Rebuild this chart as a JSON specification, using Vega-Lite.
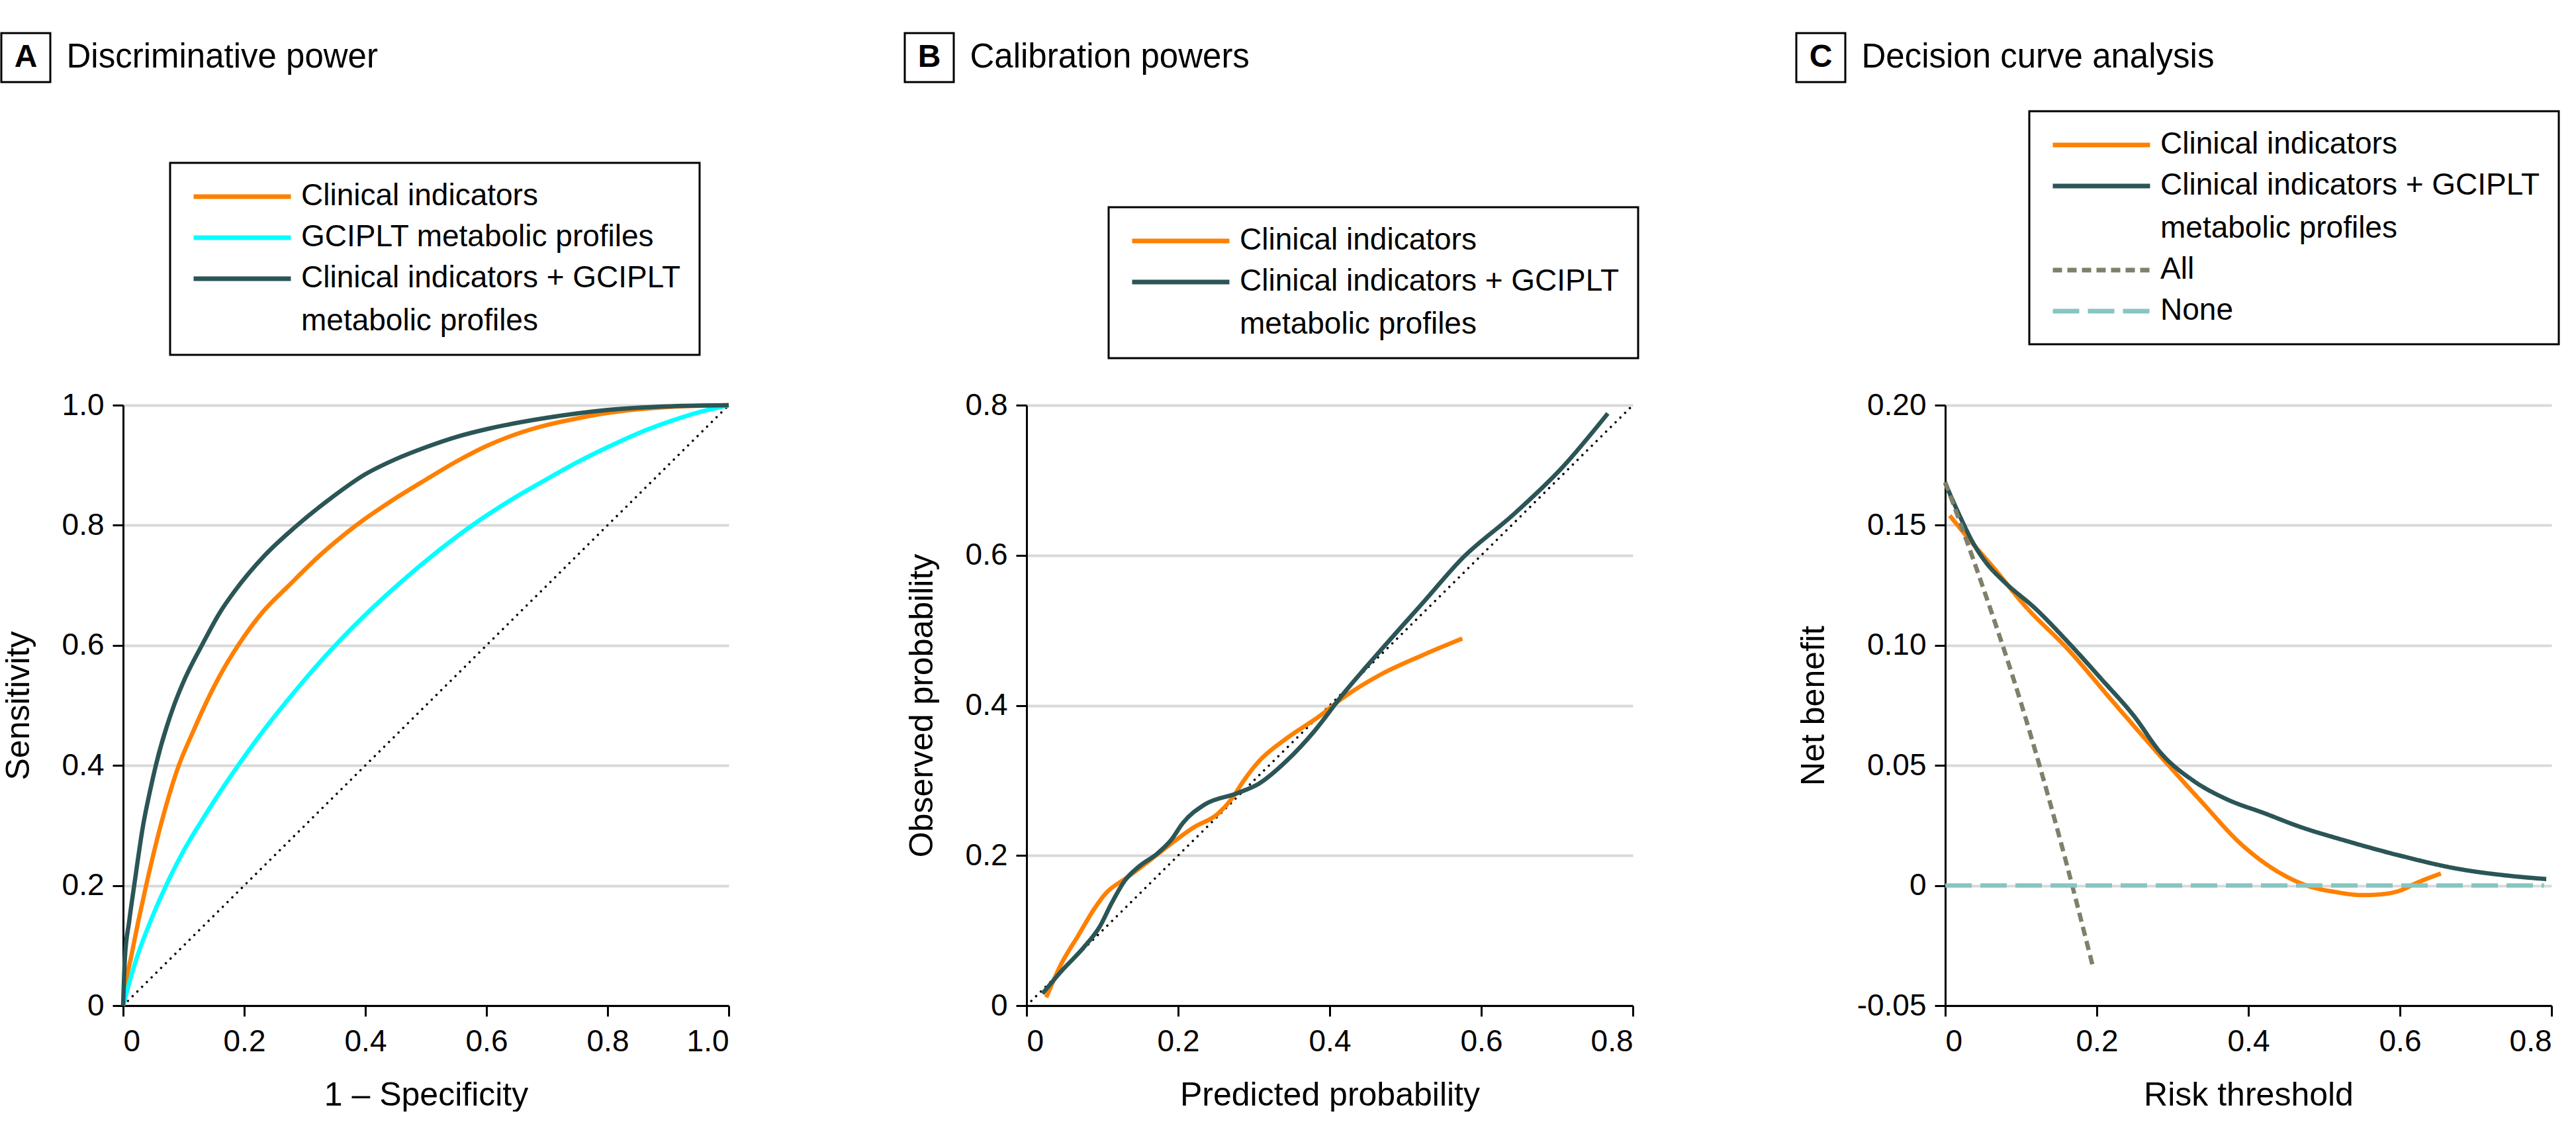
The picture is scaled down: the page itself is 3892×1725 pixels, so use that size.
{
  "$schema": "https://vega.github.io/schema/vega-lite/v6.json",
  "background": "white",
  "padding": {"left": 0, "top": 48, "right": 0, "bottom": 0},
  "config": {
    "font": "Liberation Sans",
    "view": {"stroke": null},
    "axis": {
      "domainColor": "black", "domainWidth": 3, "tickColor": "black", "tickWidth": 3, "tickSize": 16,
      "labelFontSize": 46, "labelColor": "black", "titleFontSize": 50, "titleFontWeight": "normal", "titleColor": "black",
      "gridColor": "#d9d9d9", "gridWidth": 4
    },
    "axisX": {"grid": false, "labelPadding": 16, "titlePadding": 33},
    "axisY": {"grid": true, "labelPadding": 13, "titlePadding": 40},
    "legend": {
      "strokeColor": "black", "strokeWidth": 3, "padding": 28, "rowPadding": 16,
      "labelFontSize": 46, "labelColor": "black", "labelLimit": 1000, "labelOffset": 66, "labelBaseline": "top",
      "symbolType": "M-5,0H5", "symbolSize": 864, "symbolStrokeWidth": 7, "symbolOffset": 58, "orient": "none"
    }
  },
  "resolve": {"scale": {"color": "independent", "strokeDash": "independent"}, "legend": {"color": "independent", "strokeDash": "independent"}},
  "spacing": 251,
  "hconcat": [
    {
      "spacing": 463,
      "vconcat": [
        {
          "spacing": 22,
          "hconcat": [
            {
              "width": 74, "height": 74,
              "view": {"stroke": "black", "strokeWidth": 3},
              "data": {"values": [{"panel": "A"}]},
              "mark": {"type": "text", "fontSize": 48, "fontWeight": "bold", "color": "black"},
              "encoding": {"text": {"field": "panel"}}
            },
            {
              "width": 1, "height": 74,
              "data": {"values": [{"heading": "Discriminative power"}]},
              "mark": {"type": "text", "fontSize": 51, "align": "left", "color": "black"},
              "encoding": {"text": {"field": "heading"}}
            }
          ]
        },
        {
          "spacing": 0,
          "hconcat": [
            {
              "width": 1, "height": 1,
              "data": {"values": [{"blank": ""}]},
              "mark": {"type": "text"},
              "encoding": {"text": {"field": "blank"}}
            },
            {
              "width": 915, "height": 907,
              "encoding": {
                "x": {"field": "fpr", "type": "quantitative", "scale": {"domain": [0, 1], "nice": false, "zero": false},
                      "axis": {"values": [0, 0.2, 0.4, 0.6, 0.8, 1], "labelExpr": "datum.value == 0 ? '0' : format(datum.value, '.1f')"}, "title": "1 – Specificity"},
                "y": {"field": "tpr", "type": "quantitative", "scale": {"domain": [0, 1], "nice": false, "zero": false},
                      "axis": {"values": [0, 0.2, 0.4, 0.6, 0.8, 1], "labelExpr": "datum.value == 0 ? '0' : format(datum.value, '.1f')"}, "title": "Sensitivity"}
              },
              "layer": [
                {
                  "data": {"values": [{"fpr": 0, "tpr": 0}, {"fpr": 1, "tpr": 1}]},
                  "mark": {"type": "line", "color": "black", "strokeWidth": 3.5, "strokeDash": [0.1, 10], "strokeCap": "round"}
                },
                {
                  "data": {"values": [
                    {"model": "Clinical indicators", "fpr": 0, "tpr": 0},
                    {"model": "Clinical indicators", "fpr": 0.005, "tpr": 0.04},
                    {"model": "Clinical indicators", "fpr": 0.013, "tpr": 0.08},
                    {"model": "Clinical indicators", "fpr": 0.025, "tpr": 0.14},
                    {"model": "Clinical indicators", "fpr": 0.038, "tpr": 0.2},
                    {"model": "Clinical indicators", "fpr": 0.062, "tpr": 0.3},
                    {"model": "Clinical indicators", "fpr": 0.092, "tpr": 0.4},
                    {"model": "Clinical indicators", "fpr": 0.115, "tpr": 0.455},
                    {"model": "Clinical indicators", "fpr": 0.135, "tpr": 0.5},
                    {"model": "Clinical indicators", "fpr": 0.16, "tpr": 0.55},
                    {"model": "Clinical indicators", "fpr": 0.19, "tpr": 0.6},
                    {"model": "Clinical indicators", "fpr": 0.23, "tpr": 0.655},
                    {"model": "Clinical indicators", "fpr": 0.274, "tpr": 0.7},
                    {"model": "Clinical indicators", "fpr": 0.325, "tpr": 0.75},
                    {"model": "Clinical indicators", "fpr": 0.385, "tpr": 0.8},
                    {"model": "Clinical indicators", "fpr": 0.45, "tpr": 0.845},
                    {"model": "Clinical indicators", "fpr": 0.5, "tpr": 0.876},
                    {"model": "Clinical indicators", "fpr": 0.55, "tpr": 0.906},
                    {"model": "Clinical indicators", "fpr": 0.6, "tpr": 0.932},
                    {"model": "Clinical indicators", "fpr": 0.65, "tpr": 0.952},
                    {"model": "Clinical indicators", "fpr": 0.7, "tpr": 0.967},
                    {"model": "Clinical indicators", "fpr": 0.75, "tpr": 0.978},
                    {"model": "Clinical indicators", "fpr": 0.8, "tpr": 0.987},
                    {"model": "Clinical indicators", "fpr": 0.9, "tpr": 0.997},
                    {"model": "Clinical indicators", "fpr": 1, "tpr": 1},
                    {"model": "GCIPLT metabolic profiles", "fpr": 0, "tpr": 0},
                    {"model": "GCIPLT metabolic profiles", "fpr": 0.008, "tpr": 0.03},
                    {"model": "GCIPLT metabolic profiles", "fpr": 0.022, "tpr": 0.078},
                    {"model": "GCIPLT metabolic profiles", "fpr": 0.045, "tpr": 0.14},
                    {"model": "GCIPLT metabolic profiles", "fpr": 0.071, "tpr": 0.2},
                    {"model": "GCIPLT metabolic profiles", "fpr": 0.1, "tpr": 0.258},
                    {"model": "GCIPLT metabolic profiles", "fpr": 0.128, "tpr": 0.305},
                    {"model": "GCIPLT metabolic profiles", "fpr": 0.155, "tpr": 0.348},
                    {"model": "GCIPLT metabolic profiles", "fpr": 0.19, "tpr": 0.4},
                    {"model": "GCIPLT metabolic profiles", "fpr": 0.225, "tpr": 0.449},
                    {"model": "GCIPLT metabolic profiles", "fpr": 0.263, "tpr": 0.498},
                    {"model": "GCIPLT metabolic profiles", "fpr": 0.3, "tpr": 0.543},
                    {"model": "GCIPLT metabolic profiles", "fpr": 0.343, "tpr": 0.592},
                    {"model": "GCIPLT metabolic profiles", "fpr": 0.395, "tpr": 0.646},
                    {"model": "GCIPLT metabolic profiles", "fpr": 0.455, "tpr": 0.702},
                    {"model": "GCIPLT metabolic profiles", "fpr": 0.52, "tpr": 0.757},
                    {"model": "GCIPLT metabolic profiles", "fpr": 0.585, "tpr": 0.806},
                    {"model": "GCIPLT metabolic profiles", "fpr": 0.65, "tpr": 0.848},
                    {"model": "GCIPLT metabolic profiles", "fpr": 0.7, "tpr": 0.877},
                    {"model": "GCIPLT metabolic profiles", "fpr": 0.75, "tpr": 0.905},
                    {"model": "GCIPLT metabolic profiles", "fpr": 0.8, "tpr": 0.93},
                    {"model": "GCIPLT metabolic profiles", "fpr": 0.85, "tpr": 0.953},
                    {"model": "GCIPLT metabolic profiles", "fpr": 0.9, "tpr": 0.972},
                    {"model": "GCIPLT metabolic profiles", "fpr": 0.95, "tpr": 0.988},
                    {"model": "GCIPLT metabolic profiles", "fpr": 1, "tpr": 1},
                    {"model": "Clinical indicators + GCIPLT metabolic profiles", "fpr": 0, "tpr": 0},
                    {"model": "Clinical indicators + GCIPLT metabolic profiles", "fpr": 0.003, "tpr": 0.08},
                    {"model": "Clinical indicators + GCIPLT metabolic profiles", "fpr": 0.01, "tpr": 0.14},
                    {"model": "Clinical indicators + GCIPLT metabolic profiles", "fpr": 0.019, "tpr": 0.205},
                    {"model": "Clinical indicators + GCIPLT metabolic profiles", "fpr": 0.033, "tpr": 0.3},
                    {"model": "Clinical indicators + GCIPLT metabolic profiles", "fpr": 0.045, "tpr": 0.36},
                    {"model": "Clinical indicators + GCIPLT metabolic profiles", "fpr": 0.054, "tpr": 0.4},
                    {"model": "Clinical indicators + GCIPLT metabolic profiles", "fpr": 0.084, "tpr": 0.5},
                    {"model": "Clinical indicators + GCIPLT metabolic profiles", "fpr": 0.1, "tpr": 0.54},
                    {"model": "Clinical indicators + GCIPLT metabolic profiles", "fpr": 0.13, "tpr": 0.6},
                    {"model": "Clinical indicators + GCIPLT metabolic profiles", "fpr": 0.16, "tpr": 0.655},
                    {"model": "Clinical indicators + GCIPLT metabolic profiles", "fpr": 0.184, "tpr": 0.69},
                    {"model": "Clinical indicators + GCIPLT metabolic profiles", "fpr": 0.234, "tpr": 0.75},
                    {"model": "Clinical indicators + GCIPLT metabolic profiles", "fpr": 0.284, "tpr": 0.797},
                    {"model": "Clinical indicators + GCIPLT metabolic profiles", "fpr": 0.343, "tpr": 0.845},
                    {"model": "Clinical indicators + GCIPLT metabolic profiles", "fpr": 0.4, "tpr": 0.885},
                    {"model": "Clinical indicators + GCIPLT metabolic profiles", "fpr": 0.45, "tpr": 0.91},
                    {"model": "Clinical indicators + GCIPLT metabolic profiles", "fpr": 0.5, "tpr": 0.93},
                    {"model": "Clinical indicators + GCIPLT metabolic profiles", "fpr": 0.55, "tpr": 0.947},
                    {"model": "Clinical indicators + GCIPLT metabolic profiles", "fpr": 0.6, "tpr": 0.96},
                    {"model": "Clinical indicators + GCIPLT metabolic profiles", "fpr": 0.7, "tpr": 0.979},
                    {"model": "Clinical indicators + GCIPLT metabolic profiles", "fpr": 0.8, "tpr": 0.992},
                    {"model": "Clinical indicators + GCIPLT metabolic profiles", "fpr": 0.9, "tpr": 0.998},
                    {"model": "Clinical indicators + GCIPLT metabolic profiles", "fpr": 1, "tpr": 1}
                  ]},
                  "mark": {"type": "line", "strokeWidth": 6.5, "interpolate": "monotone"},
                  "encoding": {
                    "color": {"field": "model", "type": "nominal",
                      "scale": {"domain": ["Clinical indicators", "GCIPLT metabolic profiles", "Clinical indicators + GCIPLT metabolic profiles"], "range": ["#ff8000", "#00ffff", "#2b5556"]},
                      "legend": {"title": null, "legendX": 255, "legendY": 196, "symbolType": "M-5,0H5",
                        "labelExpr": "datum.label == 'Clinical indicators + GCIPLT metabolic profiles' ? ['Clinical indicators + GCIPLT', 'metabolic profiles'] : datum.label",
                        "encode": {"labels": {"update": {"dy": {"value": -23}, "lineHeight": {"value": 65}}}, "symbols": {"update": {"strokeWidth": {"value": 7}}}}}
                    }
                  }
                }
              ]
            }
          ]
        }
      ]
    },
    {
      "spacing": 235,
      "resolve": {"scale": {"color": "independent", "strokeDash": "independent"}, "legend": {"color": "independent", "strokeDash": "independent"}},
      "hconcat": [
        {
          "spacing": 463,
          "vconcat": [
            {
              "spacing": 22,
              "hconcat": [
                {
                  "width": 74, "height": 74,
                  "view": {"stroke": "black", "strokeWidth": 3},
                  "data": {"values": [{"panel": "B"}]},
                  "mark": {"type": "text", "fontSize": 48, "fontWeight": "bold", "color": "black"},
                  "encoding": {"text": {"field": "panel"}}
                },
                {
                  "width": 1, "height": 74,
                  "data": {"values": [{"heading": "Calibration powers"}]},
                  "mark": {"type": "text", "fontSize": 51, "align": "left", "color": "black"},
                  "encoding": {"text": {"field": "heading"}}
                }
              ]
            },
            {
              "spacing": 0,
              "hconcat": [
                {
                  "width": 1, "height": 1,
                  "data": {"values": [{"blank": ""}]},
                  "mark": {"type": "text"},
                  "encoding": {"text": {"field": "blank"}}
                },
                {
                  "width": 916, "height": 907,
                  "encoding": {
                    "x": {"field": "predicted", "type": "quantitative", "scale": {"domain": [0, 0.8], "nice": false, "zero": false},
                          "axis": {"values": [0, 0.2, 0.4, 0.6, 0.8], "labelExpr": "datum.value == 0 ? '0' : format(datum.value, '.1f')"}, "title": "Predicted probability"},
                    "y": {"field": "observed", "type": "quantitative", "scale": {"domain": [0, 0.8], "nice": false, "zero": false},
                          "axis": {"values": [0, 0.2, 0.4, 0.6, 0.8], "labelExpr": "datum.value == 0 ? '0' : format(datum.value, '.1f')"}, "title": "Observed probability"}
                  },
                  "layer": [
                    {
                      "data": {"values": [{"predicted": 0, "observed": 0}, {"predicted": 0.8, "observed": 0.8}]},
                      "mark": {"type": "line", "color": "black", "strokeWidth": 3.5, "strokeDash": [0.1, 10], "strokeCap": "round"}
                    },
                    {
                      "data": {"values": [
                        {"model": "Clinical indicators", "predicted": 0.026, "observed": 0.011},
                        {"model": "Clinical indicators", "predicted": 0.046, "observed": 0.056},
                        {"model": "Clinical indicators", "predicted": 0.068, "observed": 0.093},
                        {"model": "Clinical indicators", "predicted": 0.09, "observed": 0.13},
                        {"model": "Clinical indicators", "predicted": 0.104, "observed": 0.149},
                        {"model": "Clinical indicators", "predicted": 0.133, "observed": 0.171},
                        {"model": "Clinical indicators", "predicted": 0.162, "observed": 0.193},
                        {"model": "Clinical indicators", "predicted": 0.191, "observed": 0.216},
                        {"model": "Clinical indicators", "predicted": 0.22, "observed": 0.237},
                        {"model": "Clinical indicators", "predicted": 0.253, "observed": 0.256},
                        {"model": "Clinical indicators", "predicted": 0.271, "observed": 0.276},
                        {"model": "Clinical indicators", "predicted": 0.286, "observed": 0.299},
                        {"model": "Clinical indicators", "predicted": 0.307, "observed": 0.326},
                        {"model": "Clinical indicators", "predicted": 0.343, "observed": 0.356},
                        {"model": "Clinical indicators", "predicted": 0.387, "observed": 0.386},
                        {"model": "Clinical indicators", "predicted": 0.416, "observed": 0.409},
                        {"model": "Clinical indicators", "predicted": 0.467, "observed": 0.441},
                        {"model": "Clinical indicators", "predicted": 0.525, "observed": 0.468},
                        {"model": "Clinical indicators", "predicted": 0.575, "observed": 0.489},
                        {"model": "Clinical indicators + GCIPLT metabolic profiles", "predicted": 0.021, "observed": 0.016},
                        {"model": "Clinical indicators + GCIPLT metabolic profiles", "predicted": 0.046, "observed": 0.046},
                        {"model": "Clinical indicators + GCIPLT metabolic profiles", "predicted": 0.075, "observed": 0.077},
                        {"model": "Clinical indicators + GCIPLT metabolic profiles", "predicted": 0.097, "observed": 0.106},
                        {"model": "Clinical indicators + GCIPLT metabolic profiles", "predicted": 0.112, "observed": 0.136},
                        {"model": "Clinical indicators + GCIPLT metabolic profiles", "predicted": 0.13, "observed": 0.167},
                        {"model": "Clinical indicators + GCIPLT metabolic profiles", "predicted": 0.148, "observed": 0.185},
                        {"model": "Clinical indicators + GCIPLT metabolic profiles", "predicted": 0.173, "observed": 0.203},
                        {"model": "Clinical indicators + GCIPLT metabolic profiles", "predicted": 0.191, "observed": 0.221},
                        {"model": "Clinical indicators + GCIPLT metabolic profiles", "predicted": 0.206, "observed": 0.243},
                        {"model": "Clinical indicators + GCIPLT metabolic profiles", "predicted": 0.235, "observed": 0.268},
                        {"model": "Clinical indicators + GCIPLT metabolic profiles", "predicted": 0.278, "observed": 0.283},
                        {"model": "Clinical indicators + GCIPLT metabolic profiles", "predicted": 0.307, "observed": 0.296},
                        {"model": "Clinical indicators + GCIPLT metabolic profiles", "predicted": 0.343, "observed": 0.326},
                        {"model": "Clinical indicators + GCIPLT metabolic profiles", "predicted": 0.38, "observed": 0.366},
                        {"model": "Clinical indicators + GCIPLT metabolic profiles", "predicted": 0.416, "observed": 0.413},
                        {"model": "Clinical indicators + GCIPLT metabolic profiles", "predicted": 0.467, "observed": 0.473},
                        {"model": "Clinical indicators + GCIPLT metabolic profiles", "predicted": 0.525, "observed": 0.539},
                        {"model": "Clinical indicators + GCIPLT metabolic profiles", "predicted": 0.575, "observed": 0.596},
                        {"model": "Clinical indicators + GCIPLT metabolic profiles", "predicted": 0.641, "observed": 0.653},
                        {"model": "Clinical indicators + GCIPLT metabolic profiles", "predicted": 0.706, "observed": 0.716},
                        {"model": "Clinical indicators + GCIPLT metabolic profiles", "predicted": 0.767, "observed": 0.789}
                      ]},
                      "mark": {"type": "line", "strokeWidth": 6.5, "interpolate": "monotone"},
                      "encoding": {
                        "color": {"field": "model", "type": "nominal",
                          "scale": {"domain": ["Clinical indicators", "Clinical indicators + GCIPLT metabolic profiles"], "range": ["#ff8000", "#2b5556"]},
                          "legend": {"title": null, "legendX": 308, "legendY": 263, "symbolType": "M-5,0H5",
                            "labelExpr": "datum.label == 'Clinical indicators + GCIPLT metabolic profiles' ? ['Clinical indicators + GCIPLT', 'metabolic profiles'] : datum.label",
                            "encode": {"labels": {"update": {"dy": {"value": -23}, "lineHeight": {"value": 65}}}, "symbols": {"update": {"strokeWidth": {"value": 7}}}}}
                        }
                      }
                    }
                  ]
                }
              ]
            }
          ]
        },
        {
          "spacing": 463,
          "vconcat": [
            {
              "spacing": 22,
              "hconcat": [
                {
                  "width": 74, "height": 74,
                  "view": {"stroke": "black", "strokeWidth": 3},
                  "data": {"values": [{"panel": "C"}]},
                  "mark": {"type": "text", "fontSize": 48, "fontWeight": "bold", "color": "black"},
                  "encoding": {"text": {"field": "panel"}}
                },
                {
                  "width": 1, "height": 74,
                  "data": {"values": [{"heading": "Decision curve analysis"}]},
                  "mark": {"type": "text", "fontSize": 51, "align": "left", "color": "black"},
                  "encoding": {"text": {"field": "heading"}}
                }
              ]
            },
            {
              "spacing": 0,
              "hconcat": [
                {
                  "width": 1, "height": 1,
                  "data": {"values": [{"blank": ""}]},
                  "mark": {"type": "text"},
                  "encoding": {"text": {"field": "blank"}}
                },
                {
                  "width": 916, "height": 907,
                  "data": {"values": [
                    {"model": "Clinical indicators", "threshold": 0.006, "net_benefit": 0.154},
                    {"model": "Clinical indicators", "threshold": 0.04, "net_benefit": 0.141},
                    {"model": "Clinical indicators", "threshold": 0.062, "net_benefit": 0.133},
                    {"model": "Clinical indicators", "threshold": 0.105, "net_benefit": 0.1165},
                    {"model": "Clinical indicators", "threshold": 0.163, "net_benefit": 0.098},
                    {"model": "Clinical indicators", "threshold": 0.22, "net_benefit": 0.077},
                    {"model": "Clinical indicators", "threshold": 0.278, "net_benefit": 0.056},
                    {"model": "Clinical indicators", "threshold": 0.335, "net_benefit": 0.036},
                    {"model": "Clinical indicators", "threshold": 0.393, "net_benefit": 0.0165},
                    {"model": "Clinical indicators", "threshold": 0.443, "net_benefit": 0.005},
                    {"model": "Clinical indicators", "threshold": 0.479, "net_benefit": -0.0002},
                    {"model": "Clinical indicators", "threshold": 0.515, "net_benefit": -0.0027},
                    {"model": "Clinical indicators", "threshold": 0.551, "net_benefit": -0.004},
                    {"model": "Clinical indicators", "threshold": 0.58, "net_benefit": -0.0035},
                    {"model": "Clinical indicators", "threshold": 0.602, "net_benefit": -0.0019},
                    {"model": "Clinical indicators", "threshold": 0.62, "net_benefit": 0.0008},
                    {"model": "Clinical indicators", "threshold": 0.654, "net_benefit": 0.005},
                    {"model": "Clinical indicators + GCIPLT metabolic profiles", "threshold": 0, "net_benefit": 0.1675},
                    {"model": "Clinical indicators + GCIPLT metabolic profiles", "threshold": 0.019, "net_benefit": 0.154},
                    {"model": "Clinical indicators + GCIPLT metabolic profiles", "threshold": 0.037, "net_benefit": 0.1425},
                    {"model": "Clinical indicators + GCIPLT metabolic profiles", "threshold": 0.055, "net_benefit": 0.134},
                    {"model": "Clinical indicators + GCIPLT metabolic profiles", "threshold": 0.076, "net_benefit": 0.127},
                    {"model": "Clinical indicators + GCIPLT metabolic profiles", "threshold": 0.12, "net_benefit": 0.115},
                    {"model": "Clinical indicators + GCIPLT metabolic profiles", "threshold": 0.163, "net_benefit": 0.101},
                    {"model": "Clinical indicators + GCIPLT metabolic profiles", "threshold": 0.206, "net_benefit": 0.086},
                    {"model": "Clinical indicators + GCIPLT metabolic profiles", "threshold": 0.249, "net_benefit": 0.0706},
                    {"model": "Clinical indicators + GCIPLT metabolic profiles", "threshold": 0.285, "net_benefit": 0.055},
                    {"model": "Clinical indicators + GCIPLT metabolic profiles", "threshold": 0.328, "net_benefit": 0.0435},
                    {"model": "Clinical indicators + GCIPLT metabolic profiles", "threshold": 0.371, "net_benefit": 0.036},
                    {"model": "Clinical indicators + GCIPLT metabolic profiles", "threshold": 0.422, "net_benefit": 0.03},
                    {"model": "Clinical indicators + GCIPLT metabolic profiles", "threshold": 0.465, "net_benefit": 0.0248},
                    {"model": "Clinical indicators + GCIPLT metabolic profiles", "threshold": 0.53, "net_benefit": 0.0185},
                    {"model": "Clinical indicators + GCIPLT metabolic profiles", "threshold": 0.602, "net_benefit": 0.0123},
                    {"model": "Clinical indicators + GCIPLT metabolic profiles", "threshold": 0.674, "net_benefit": 0.0071},
                    {"model": "Clinical indicators + GCIPLT metabolic profiles", "threshold": 0.746, "net_benefit": 0.004},
                    {"model": "Clinical indicators + GCIPLT metabolic profiles", "threshold": 0.793, "net_benefit": 0.0027},
                    {"model": "All", "threshold": 0, "net_benefit": 0.168},
                    {"model": "All", "threshold": 0.05, "net_benefit": 0.124},
                    {"model": "All", "threshold": 0.1, "net_benefit": 0.076},
                    {"model": "All", "threshold": 0.15, "net_benefit": 0.021},
                    {"model": "All", "threshold": 0.195, "net_benefit": -0.034},
                    {"model": "None", "threshold": 0, "net_benefit": 0},
                    {"model": "None", "threshold": 0.79, "net_benefit": 0}
                  ]},
                  "mark": {"type": "line", "strokeWidth": 6.5, "interpolate": "monotone"},
                  "encoding": {
                    "x": {"field": "threshold", "type": "quantitative", "scale": {"domain": [0, 0.8], "nice": false, "zero": false},
                          "axis": {"values": [0, 0.2, 0.4, 0.6, 0.8], "labelExpr": "datum.value == 0 ? '0' : format(datum.value, '.1f')"}, "title": "Risk threshold"},
                    "y": {"field": "net_benefit", "type": "quantitative", "scale": {"domain": [-0.05, 0.2], "nice": false, "zero": false},
                          "axis": {"values": [-0.05, 0, 0.05, 0.1, 0.15, 0.2], "labelExpr": "datum.value == 0 ? '0' : (datum.value < 0 ? '-' + format(-datum.value, '.2f') : format(datum.value, '.2f'))"}, "title": "Net benefit"},
                    "color": {"field": "model", "type": "nominal",
                      "scale": {"domain": ["Clinical indicators", "Clinical indicators + GCIPLT metabolic profiles", "All", "None"], "range": ["#ff8000", "#2b5556", "#807f6a", "#86c5c2"]},
                      "legend": {"title": null, "legendX": 352, "legendY": 118, "symbolType": "M-5,0H5",
                        "labelExpr": "datum.label == 'Clinical indicators + GCIPLT metabolic profiles' ? ['Clinical indicators + GCIPLT', 'metabolic profiles'] : datum.label",
                        "encode": {"labels": {"update": {"dy": {"value": -23}, "lineHeight": {"value": 65}}}, "symbols": {"update": {"strokeWidth": {"value": 7}}}}}
                    },
                    "strokeDash": {"field": "model", "type": "nominal",
                      "scale": {"domain": ["Clinical indicators", "Clinical indicators + GCIPLT metabolic profiles", "All", "None"], "range": [[1, 0], [1, 0], [14, 8], [40, 13]]},
                      "legend": {"title": null, "legendX": 352, "legendY": 118, "symbolType": "M-5,0H5",
                        "labelExpr": "datum.label == 'Clinical indicators + GCIPLT metabolic profiles' ? ['Clinical indicators + GCIPLT', 'metabolic profiles'] : datum.label",
                        "encode": {"labels": {"update": {"dy": {"value": -23}, "lineHeight": {"value": 65}}}, "symbols": {"update": {"strokeWidth": {"value": 7}}}}}
                    }
                  }
                }
              ]
            }
          ]
        }
      ]
    }
  ]
}
